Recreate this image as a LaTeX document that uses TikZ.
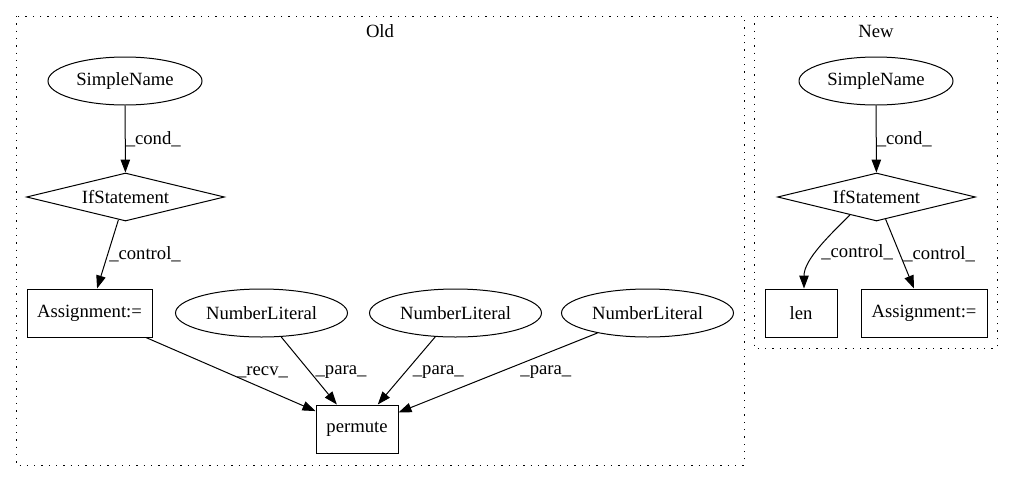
\documentclass[tikz,border=0pt]{standalone}
\usepackage{fontspec}
\setmainfont{Liberation Serif}
\usetikzlibrary{shapes.geometric,arrows.meta}
\begin{document}
\begin{tikzpicture}[x=1pt,y=-1pt,line width=1pt,
  every node/.style={font=\fontsize{18.67}{22}\selectfont},
  ell/.style={draw, ellipse, inner sep=0pt, minimum height=48pt},
  box/.style={draw, rectangle, inner sep=0pt, minimum height=48pt},
  dia/.style={draw, diamond, aspect=4.1, inner sep=0pt, minimum width=198pt, minimum height=48pt},
  conn/.style={-{Triangle[length=13pt,width=9.5pt]}, line width=1pt},
  lbl/.style={anchor=west, inner sep=0pt},
  cluster/.style={draw, line width=1pt, dash pattern=on 1.3pt off 6pt}]
\useasboundingbox (0,0) rectangle (1013,480);
% clusters
\draw[cluster] (16,16) rectangle (744,465);
\draw[cluster] (754,16) rectangle (997,348);
\node (oldlbl) at (380,31) {Old};
\node (newlbl) at (876,31) {New};
% Old nodes
\node[ell, minimum width=154pt] (sn1) at (125,81) {SimpleName};
\node[dia] (if1) at (125.5,197) {IfStatement};
\node[box, minimum width=125pt] (asg1) at (89.5,313) {Assignment:=};
\node[ell, minimum width=172pt] (nl1) at (261.5,313) {NumberLiteral};
\node[ell, minimum width=172pt] (nl2) at (455.5,313) {NumberLiteral};
\node[ell, minimum width=172pt] (nl3) at (647.5,313) {NumberLiteral};
\node[box, minimum width=82pt] (perm) at (357,429) {permute};
% New nodes
\node[ell, minimum width=154pt] (sn2) at (876,81) {SimpleName};
\node[dia] (if2) at (876.5,197) {IfStatement};
\node[box, minimum width=72pt] (len) at (801,313) {len};
\node[box, minimum width=126pt] (asg2) at (924,313) {Assignment:=};
% Old edges
\draw[conn] (sn1) -- node[lbl, pos=0.5] {\_cond\_} (if1);
\draw[conn] (if1) -- node[lbl, pos=0.5, xshift=1pt] {\_control\_} (asg1);
\draw[conn] (asg1) -- node[lbl, pos=0.47, xshift=11pt] {\_recv\_} (perm);
\draw[conn] (nl1) -- node[lbl, pos=0.52, xshift=5pt] {\_para\_} (perm);
\draw[conn] (nl2) -- node[lbl, pos=0.52, xshift=7pt] {\_para\_} (perm);
\draw[conn] (nl3) -- node[lbl, pos=0.49, xshift=20pt] {\_para\_} (perm);
% New edges
\draw[conn] (sn2) -- node[lbl, pos=0.5] {\_cond\_} (if2);
\draw[conn] (if2.-146) .. controls +(-20,20) and +(0,-29) .. node[lbl, pos=0.55, xshift=4pt] {\_control\_} ([xshift=3pt]len.north);
\draw[conn] (if2) -- node[lbl, pos=0.5, xshift=3pt] {\_control\_} (asg2);
\end{tikzpicture}
\end{document}
